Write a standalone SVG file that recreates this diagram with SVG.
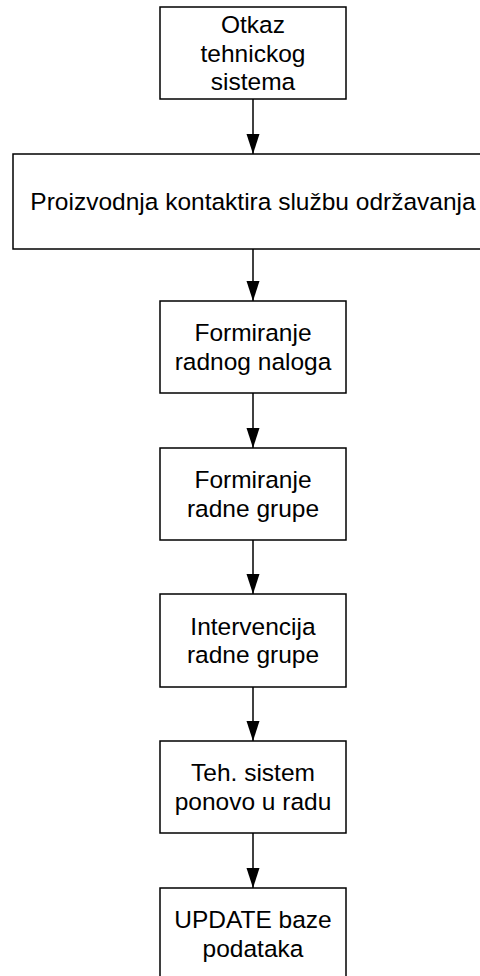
<svg xmlns="http://www.w3.org/2000/svg" width="480" height="976" viewBox="0 0 480 976">
<style>
.box{fill:#fff;stroke:#000;stroke-width:1.5}
.t{font-family:"Liberation Sans",Arial,sans-serif;font-size:24.5px;fill:#000;text-anchor:middle}
.c{stroke:#000;stroke-width:1.5;fill:none}
</style>
<defs>
<marker id="ah" markerUnits="userSpaceOnUse" markerWidth="20" markerHeight="14" refX="20" refY="7" orient="auto" viewBox="0 0 20 14">
<path d="M0,0.5 L20,7 L0,13.5 Z" fill="#000"/>
</marker>
</defs>
<rect width="480" height="976" fill="#fff"/>
<g id="connectors">
<line class="c" x1="253" y1="99" x2="253" y2="154" marker-end="url(#ah)"/>
<line class="c" x1="253" y1="249" x2="253" y2="301" marker-end="url(#ah)"/>
<line class="c" x1="253" y1="393" x2="253" y2="448" marker-end="url(#ah)"/>
<line class="c" x1="253" y1="540" x2="253" y2="594" marker-end="url(#ah)"/>
<line class="c" x1="253" y1="687" x2="253" y2="741" marker-end="url(#ah)"/>
<line class="c" x1="253" y1="833" x2="253" y2="888" marker-end="url(#ah)"/>
</g>
<g id="n1"><rect class="box" x="160" y="7" width="186" height="92"/>
<text class="t" x="253" y="33">Otkaz</text><text class="t" x="253" y="61.5">tehnickog</text><text class="t" x="253" y="90">sistema</text></g>
<g id="n2"><rect class="box" x="13" y="154" width="480" height="95"/>
<text class="t" x="253" y="210">Proizvodnja kontaktira službu održavanja</text></g>
<g id="n3"><rect class="box" x="160" y="301" width="186" height="92"/>
<text class="t" x="253" y="341">Formiranje</text><text class="t" x="253" y="370">radnog naloga</text></g>
<g id="n4"><rect class="box" x="160" y="448" width="186" height="92"/>
<text class="t" x="253" y="488">Formiranje</text><text class="t" x="253" y="516.5">radne grupe</text></g>
<g id="n5"><rect class="box" x="160" y="594" width="186" height="93"/>
<text class="t" x="253" y="634.5">Intervencija</text><text class="t" x="253" y="663">radne grupe</text></g>
<g id="n6"><rect class="box" x="160" y="741" width="186" height="92"/>
<text class="t" x="253" y="781">Teh. sistem</text><text class="t" x="253" y="809.5">ponovo u radu</text></g>
<g id="n7"><rect class="box" x="160" y="888" width="186" height="92"/>
<text class="t" x="253" y="928">UPDATE baze</text><text class="t" x="253" y="956.5">podataka</text></g>
</svg>
